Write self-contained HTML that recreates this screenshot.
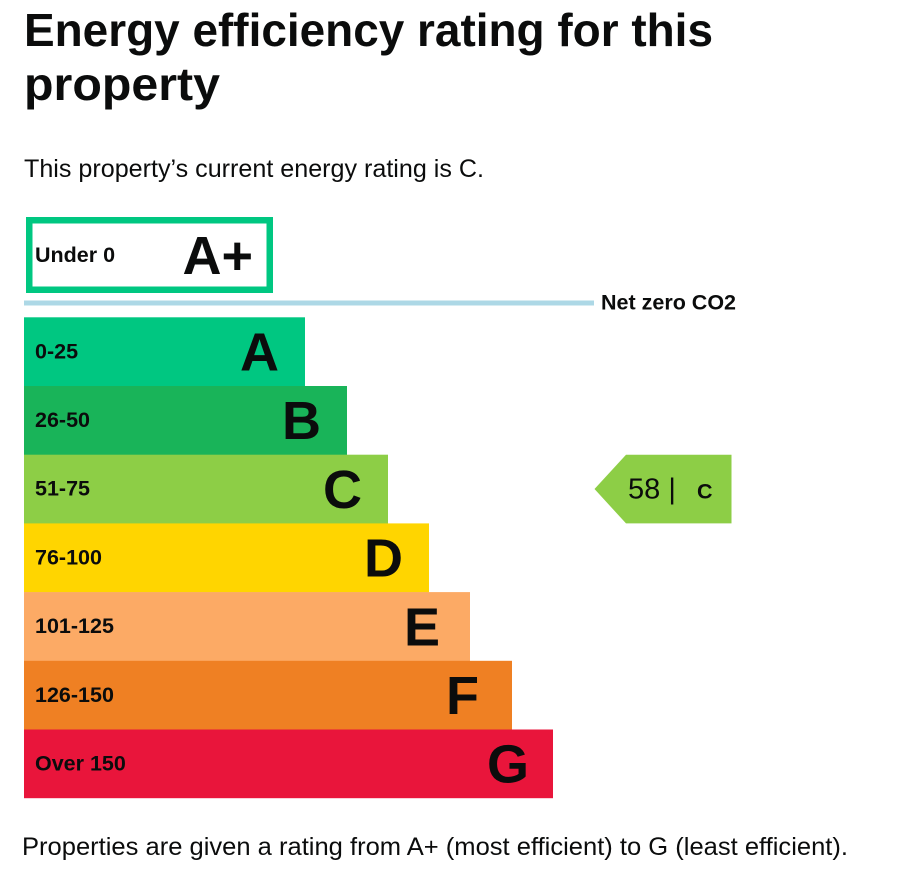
<!DOCTYPE html>
<html>
<head>
<meta charset="utf-8">
<style>
html,body{margin:0;padding:0;background:#fff;}
svg{display:block;}
text{font-family:"Liberation Sans",Arial,sans-serif;fill:#0b0c0c;}
.b{font-weight:bold;}
</style>
</head>
<body>
<svg width="897" height="877" viewBox="0 0 897 877" xmlns="http://www.w3.org/2000/svg">
  <!-- Title -->
  <text class="b" x="24" y="46" font-size="46" textLength="689" lengthAdjust="spacingAndGlyphs">Energy efficiency rating for this</text>
  <text class="b" x="24" y="100" font-size="46" textLength="196" lengthAdjust="spacingAndGlyphs">property</text>
  <!-- Subtitle -->
  <text x="24" y="177" font-size="25" textLength="460" lengthAdjust="spacingAndGlyphs">This property’s current energy rating is C.</text>

  <!-- A+ box -->
  <rect x="29.25" y="220.25" width="240.5" height="69.5" fill="#fff" stroke="#00c781" stroke-width="6.5"/>
  <text class="b" x="35" y="262" font-size="21.5" fill="#000">Under 0</text>
  <text class="b" x="253" y="274" font-size="54" text-anchor="end" fill="#000">A+</text>

  <!-- Net zero line -->
  <rect x="24" y="300.5" width="570" height="5" fill="#add8e6"/>
  <text class="b" x="601" y="309.5" font-size="21.5" fill="#000">Net zero CO2</text>

  <!-- Bars -->
  <rect x="24" y="317.3" width="281" height="69" fill="#00c781"/>
  <rect x="24" y="386" width="323" height="69" fill="#19b459"/>
  <rect x="24" y="454.7" width="364" height="69" fill="#8dce46"/>
  <rect x="24" y="523.4" width="405" height="69" fill="#ffd500"/>
  <rect x="24" y="592.1" width="446" height="69" fill="#fcaa65"/>
  <rect x="24" y="660.8" width="488" height="69" fill="#ef8023"/>
  <rect x="24" y="729.5" width="529" height="68.7" fill="#e9153b"/>

  <!-- Range labels -->
  <text class="b" x="35" y="358.3" font-size="21.5" fill="#000">0-25</text>
  <text class="b" x="35" y="427" font-size="21.5" fill="#000">26-50</text>
  <text class="b" x="35" y="495.7" font-size="21.5" fill="#000">51-75</text>
  <text class="b" x="35" y="564.4" font-size="21.5" fill="#000">76-100</text>
  <text class="b" x="35" y="633.1" font-size="21.5" fill="#000">101-125</text>
  <text class="b" x="35" y="701.8" font-size="21.5" fill="#000">126-150</text>
  <text class="b" x="35" y="770.5" font-size="21.5" fill="#000">Over 150</text>

  <!-- Letters -->
  <text class="b" x="279" y="370.5" font-size="54" text-anchor="end" fill="#000">A</text>
  <text class="b" x="321" y="439.2" font-size="54" text-anchor="end" fill="#000">B</text>
  <text class="b" x="362" y="507.9" font-size="54" text-anchor="end" fill="#000">C</text>
  <text class="b" x="403" y="576.6" font-size="54" text-anchor="end" fill="#000">D</text>
  <text class="b" x="440" y="645.3" font-size="54" text-anchor="end" fill="#000">E</text>
  <text class="b" x="479" y="714" font-size="54" text-anchor="end" fill="#000">F</text>
  <text class="b" x="529" y="782.7" font-size="54" text-anchor="end" fill="#000">G</text>

  <!-- Current rating arrow -->
  <polygon points="594.5,489 626,454.7 731.5,454.7 731.5,523.4 626,523.4" fill="#8dce46"/>
  <text x="628" y="498.5" font-size="29" fill="#000">58 |</text>
  <text class="b" x="697" y="498.5" font-size="21.5" fill="#000">C</text>

  <!-- Footer -->
  <text x="22" y="855" font-size="25" textLength="826" lengthAdjust="spacingAndGlyphs">Properties are given a rating from A+ (most efficient) to G (least efficient).</text>
</svg>
</body>
</html>
